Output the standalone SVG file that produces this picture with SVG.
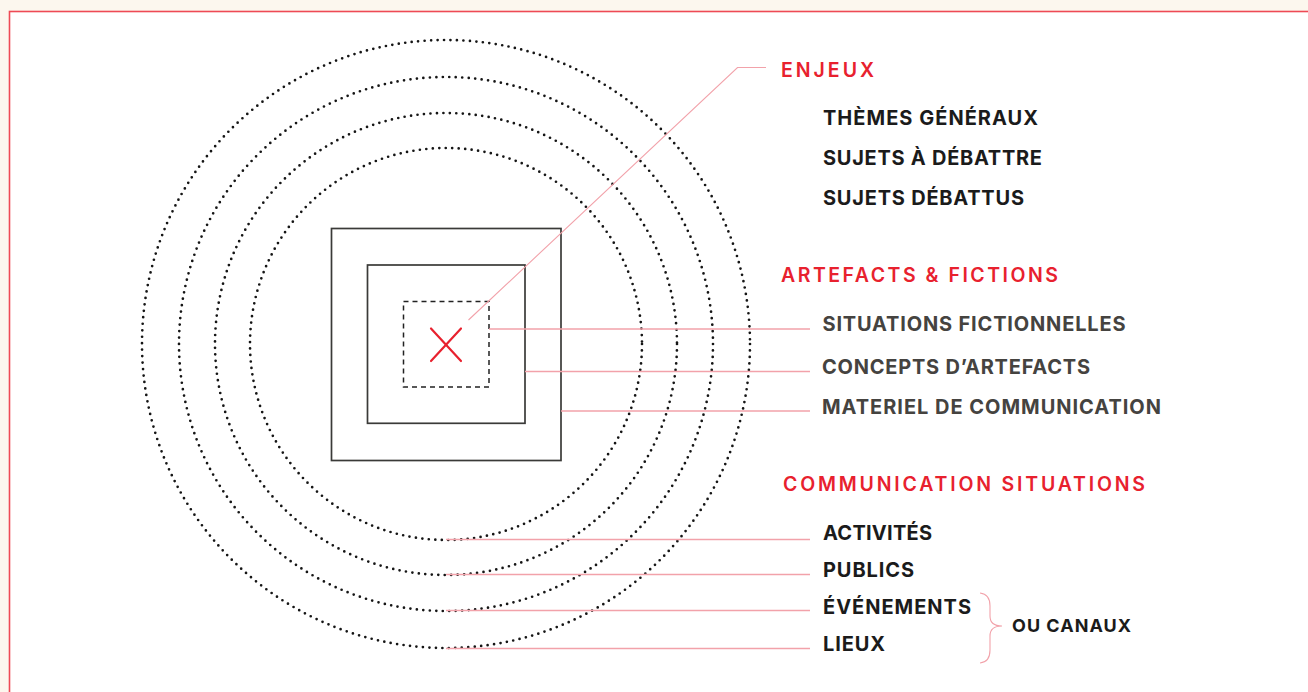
<svg xmlns="http://www.w3.org/2000/svg" width="1308" height="692" viewBox="0 0 1308 692">
  <style>
    .circ { fill: none; stroke: #151515; stroke-width: 2.7; stroke-linecap: round; stroke-dasharray: 0 6.5; }
    .sq { fill: none; stroke: #3a3a38; stroke-width: 1.7; }
    .dash { fill: none; stroke: #222; stroke-width: 1.5; stroke-dasharray: 5 4; }
    .lead { fill: none; stroke: #f2a2aa; stroke-width: 1.5; }
    .thin { fill: none; stroke: #f2a2aa; stroke-width: 1.1; }
    .head { font-family: Inter, "Liberation Sans", sans-serif; font-weight: 600; font-size: 19.5px; fill: #e8212e; letter-spacing: 3px; }
    .item { font-family: Inter, "Liberation Sans", sans-serif; font-weight: 700; font-size: 20px; fill: #1b1b1b; }
    .grey { fill: #454340; }
  </style>
  <rect x="0" y="0" width="1308" height="692" fill="#fcf7ee"/>
  <rect x="9.5" y="11.5" width="1310" height="700" fill="#ffffff" stroke="#ee4a55" stroke-width="1.6"/>

  <g id="circles">
    <circle class="circ" cx="446" cy="344" r="196"/>
    <circle class="circ" cx="446" cy="344" r="231"/>
    <circle class="circ" cx="446" cy="344" r="267"/>
    <circle class="circ" cx="446" cy="344" r="304"/>
  </g>

  <g id="squares">
    <rect class="sq" x="331.5" y="228.5" width="229.5" height="232"/>
    <rect class="sq" x="367.5" y="265" width="157.5" height="158.3"/>
    <rect class="dash" x="403.5" y="301.5" width="85.5" height="85.5"/>
  </g>

  <g id="center-x" stroke="#e8212e" stroke-width="2.2" stroke-linecap="round">
    <line x1="431" y1="328.5" x2="461" y2="361"/>
    <line x1="461" y1="328.5" x2="431" y2="361"/>
  </g>

  <g id="connectors">
    <polyline class="thin" points="468.5,320 737.5,67.5 766,67.5"/>
    <line class="lead" x1="489" y1="329" x2="810" y2="329"/>
    <line class="lead" x1="525" y1="371.5" x2="810" y2="371.5"/>
    <line class="lead" x1="561" y1="411" x2="810" y2="411"/>
    <line class="lead" x1="446" y1="539.5" x2="810" y2="539.5"/>
    <line class="lead" x1="446" y1="574.5" x2="810" y2="574.5"/>
    <line class="lead" x1="446" y1="610.5" x2="810" y2="610.5"/>
    <line class="lead" x1="446" y1="648.5" x2="810" y2="648.5"/>
    <path class="thin" d="M980,593 Q990,594 990,606 L990,616 Q990,626 1002,626 Q990,626 990,636 L990,650 Q990,662 980,663"/>
  </g>

  <g id="enjeux">
    <text class="head" x="781" y="77" textLength="96">ENJEUX</text>
    <text class="item" x="823" y="125" textLength="215">THÈMES GÉNÉRAUX</text>
    <text class="item" x="823" y="165" textLength="219">SUJETS À DÉBATTRE</text>
    <text class="item" x="823" y="205" textLength="201">SUJETS DÉBATTUS</text>
  </g>

  <g id="artefacts">
    <text class="head" x="781" y="282" textLength="280">ARTEFACTS &amp; FICTIONS</text>
    <text class="item grey" x="822.5" y="331" textLength="303">SITUATIONS FICTIONNELLES</text>
    <text class="item grey" x="822" y="374" textLength="268">CONCEPTS D’ARTEFACTS</text>
    <text class="item grey" x="822" y="414" textLength="339">MATERIEL DE COMMUNICATION</text>
  </g>

  <g id="communication">
    <text class="head" x="783" y="491" textLength="365">COMMUNICATION SITUATIONS</text>
    <text class="item" x="823" y="540" textLength="109">ACTIVITÉS</text>
    <text class="item" x="823" y="577" textLength="91">PUBLICS</text>
    <text class="item" x="823" y="614" textLength="148">ÉVÉNEMENTS</text>
    <text class="item" x="823" y="651" textLength="62">LIEUX</text>
    <text class="item" x="1012" y="632" textLength="119" style="font-size:18px">OU CANAUX</text>
  </g>
</svg>
